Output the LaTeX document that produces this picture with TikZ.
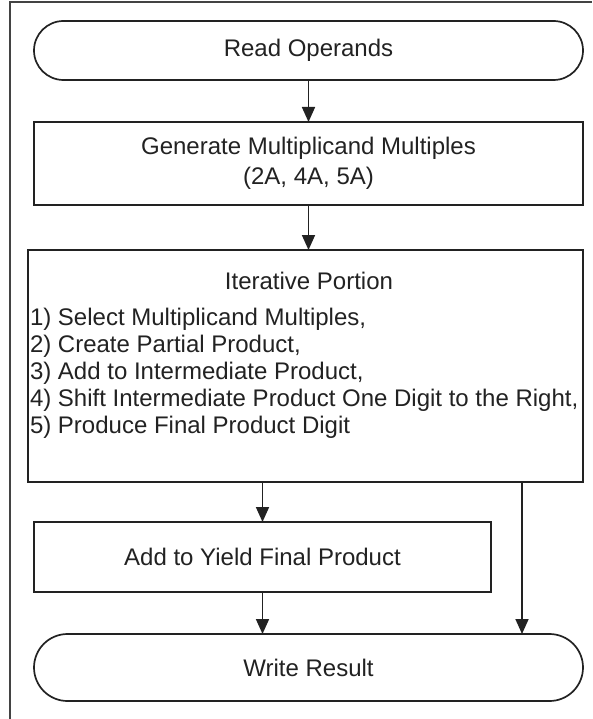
\documentclass[tikz,border=0pt]{standalone}
\usepackage{fontspec}
\setmainfont{Liberation Sans}
\usetikzlibrary{arrows.meta}
\definecolor{ink}{HTML}{222222}
\begin{document}
\begin{tikzpicture}[x=1pt,y=-1pt,
  every node/.style={inner sep=0pt, outer sep=0pt, text=ink},
  shape frame/.style={draw=ink, line width=1.7pt, fill=white},
  terminal/.style={shape frame, rectangle, rounded corners=#1, font=\fontsize{24}{28}\selectfont},
  procbox/.style={shape frame, rectangle, font=\fontsize{24}{30}\selectfont, align=center},
  flow/.style={draw=ink, line width=1.7pt, -{Triangle[length=15pt,width=13pt]}}]

  \useasboundingbox (0,0) rectangle (592,719);
  % page frame, open on the right and bottom
  \draw[ink!85, line width=1.4pt] (10,719) -- (10,2) -- (592,2);

  % flowchart blocks
  \node[terminal=29.5pt, minimum width=549pt, minimum height=59pt] (read) at (308.5,50.5) {Read Operands};
  \node[procbox, minimum width=549pt, minimum height=83pt] (gen) at (308.5,163.5)
    {Generate Multiplicand Multiples\\(2A, 4A, 5A)};
  \node[shape frame, rectangle, minimum width=555pt, minimum height=232pt] (iter) at (305.5,366) {};
  \node[font=\fontsize{24}{27}\selectfont] (ititle) at (309,281) {Iterative Portion};
  \node[font=\fontsize{24}{27}\selectfont, align=left, anchor=north west] (isteps) at (30,308)
    {1) Select Multiplicand Multiples,\\
     2) Create Partial Product,\\
     3) Add to Intermediate Product,\\
     4) Shift Intermediate Product One Digit to the Right,\\
     5) Produce Final Product Digit};
  \node[procbox, minimum width=457pt, minimum height=70pt] (add) at (262.5,557) {Add to Yield Final Product};
  \node[terminal=33.5pt, minimum width=549pt, minimum height=67pt] (write) at (308.5,667.5) {Write Result};

  % connectors
  \coordinate (bypass) at (522,0);
  \draw[flow] (read.south) -- (gen.north);
  \draw[flow] (gen.south) -- (gen.south |- iter.north);
  \draw[flow] (add.north |- iter.south) -- (add.north);
  \draw[flow] (add.south) -- (add.south |- write.north);
  \draw[flow] (iter.south -| bypass) -- (write.north -| bypass);
\end{tikzpicture}
\end{document}
